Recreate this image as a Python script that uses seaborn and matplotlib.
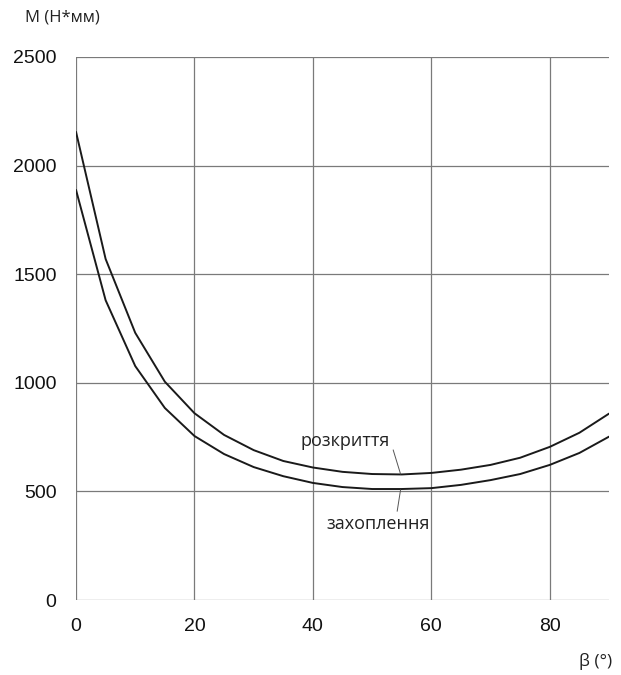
import matplotlib
matplotlib.use('Agg')
import matplotlib.pyplot as plt
import seaborn as sns
import pandas as pd

# beta angle, degrees
beta = [0, 5, 10, 15, 20, 25, 30, 35, 40, 45, 50, 55, 60, 65, 70, 75, 80, 85, 90]
# moment for opening (розкриття), N*mm
m_open = [2155, 1570, 1230, 1005, 860, 760, 690, 640, 610, 590, 580, 578, 585, 600, 622, 655, 705, 770, 858]
# moment for gripping (захоплення), N*mm
m_grip = [1888, 1380, 1077, 884, 755, 672, 612, 570, 539, 520, 511, 511, 515, 530, 552, 580, 622, 677, 752]

df = pd.concat([
    pd.DataFrame({'beta': beta, 'M': m_open, 'curve': 'розкриття'}),
    pd.DataFrame({'beta': beta, 'M': m_grip, 'curve': 'захоплення'}),
])

sns.set_style('white')
plt.rcParams['font.family'] = ['Liberation Sans', 'DejaVu Sans']
label_font = ['Open Sans', 'DejaVu Sans']

fig = plt.figure(figsize=(6.21, 6.75), dpi=100)
ax = fig.add_axes([0.1224, 0.1111, 0.8583, 0.8045])

sns.lineplot(data=df, x='beta', y='M', hue='curve', palette=['#1a1a1a', '#1a1a1a'],
             linewidth=1.4, legend=False, ax=ax, zorder=3)

ax.set_xlim(0, 90)
ax.set_ylim(0, 2500)
ax.set_xticks([0, 20, 40, 60, 80])
ax.set_yticks([0, 500, 1000, 1500, 2000, 2500])
ax.grid(True, color='#7a7a7a', linewidth=0.9)
for s in ['top', 'right', 'bottom', 'left']:
    ax.spines[s].set_visible(False)
ax.tick_params(axis='both', length=0, labelsize=14, colors='#111111')
ax.tick_params(axis='y', pad=14)
ax.tick_params(axis='x', pad=13)
ax.set_xlabel('')
ax.set_ylabel('')

fig.text(25 / 621, 1 - 17 / 675, 'М (Н*мм)', fontsize=12, family=label_font,
         va='center', ha='left', color='#222222')
fig.text(612 / 621, 1 - 662 / 675, 'β (°)', fontsize=12.5, family=label_font,
         va='center', ha='right', color='#222222')

# curve labels with leader lines
ax.annotate('розкриття', xy=(54.8, 580), xytext=(53.0, 732), fontsize=13,
            family=label_font, ha='right', va='center', color='#222222',
            arrowprops=dict(arrowstyle='-', color='#555555', linewidth=0.7,
                            relpos=(1.0, 0.6), shrinkA=0, shrinkB=0))
ax.annotate('захоплення', xy=(54.8, 507), xytext=(51.0, 352), fontsize=13,
            family=label_font, ha='center', va='center', color='#222222',
            arrowprops=dict(arrowstyle='-', color='#555555', linewidth=0.7,
                            relpos=(0.68, 1.0), shrinkA=0, shrinkB=0))

fig.savefig('out.png', dpi=100)
